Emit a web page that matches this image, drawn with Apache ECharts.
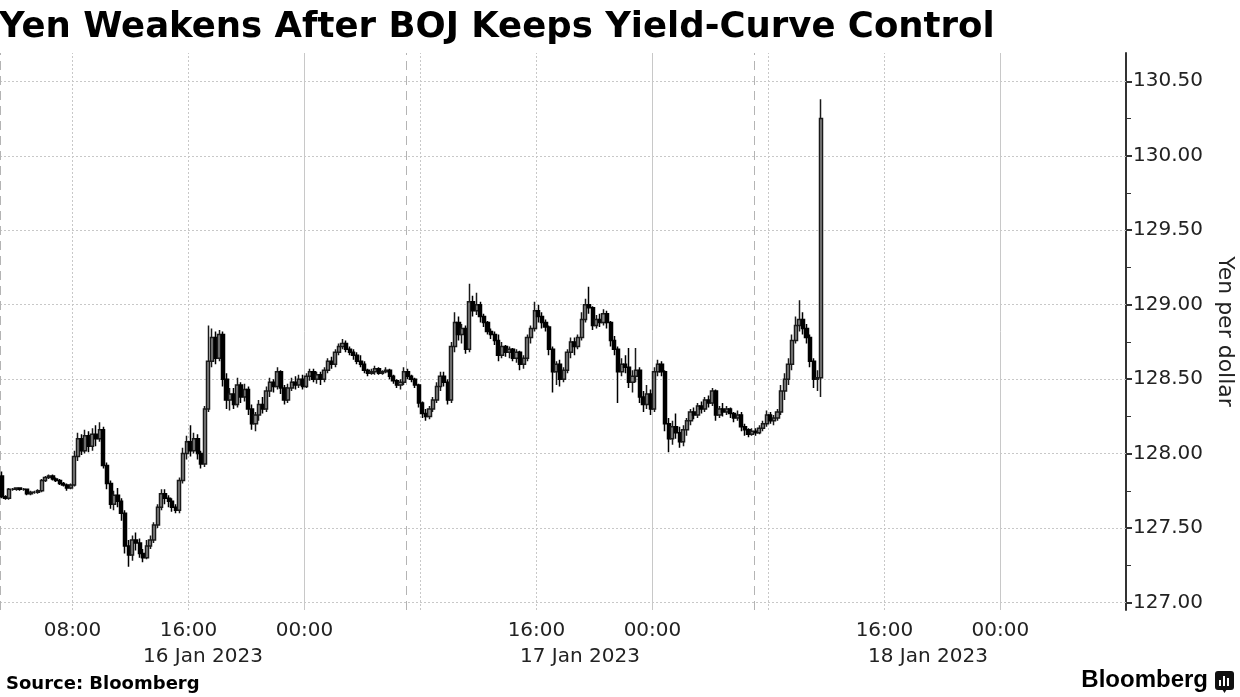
<!DOCTYPE html>
<html>
<head>
<meta charset="utf-8">
<script src="https://cdn.jsdelivr.net/npm/echarts@6/dist/echarts.min.js"></script>
<style>
  html, body { margin: 0; padding: 0; background: #fff; }
  #chart { width: 1240px; height: 697px; }
</style>
</head>
<body>
<div id="chart"></div>
<script>
// x axis is in hours from 16 Jan 2023 00:00 (Tokyo time), 15-minute candles
const stepHours = 0.25

// [open, close, low, high] per candle, one array per trading day
const jan16Start = 3
const jan16Candles = [
  [127.85,127.71,127.70,127.88],[127.71,127.70,127.69,127.72],[127.70,127.76,127.69,127.77],[127.76,127.76,127.75,127.77],
  [127.76,127.77,127.75,127.77],[127.77,127.76,127.75,127.77],[127.76,127.76,127.75,127.77],[127.76,127.73,127.72,127.76],
  [127.73,127.74,127.72,127.75],[127.74,127.74,127.73,127.75],[127.74,127.75,127.73,127.76],[127.75,127.82,127.74,127.83],
  [127.82,127.84,127.81,127.85],[127.84,127.85,127.83,127.86],[127.85,127.83,127.82,127.86],[127.83,127.82,127.81,127.84],
  [127.82,127.80,127.79,127.83],[127.80,127.79,127.78,127.81],[127.79,127.77,127.75,127.80],[127.77,127.79,127.76,127.80],
  [127.79,127.98,127.78,128.02],[127.98,128.10,127.95,128.14],[128.10,128.02,127.99,128.13],[128.02,128.12,128.00,128.16],
  [128.12,128.05,128.01,128.15],[128.05,128.13,128.02,128.17],[128.13,128.10,128.05,128.19],[128.10,128.16,128.08,128.21],
  [128.16,127.92,127.90,128.18],[127.92,127.80,127.76,127.94],[127.80,127.66,127.63,127.82],[127.66,127.72,127.62,127.75],
  [127.72,127.68,127.64,127.77],[127.68,127.60,127.55,127.70],[127.60,127.38,127.33,127.62],[127.38,127.32,127.24,127.42],
  [127.32,127.42,127.28,127.45],[127.42,127.40,127.35,127.47],[127.40,127.33,127.30,127.43],[127.33,127.30,127.27,127.36],
  [127.30,127.38,127.29,127.42],[127.38,127.42,127.36,127.45],[127.42,127.52,127.40,127.54],[127.52,127.64,127.50,127.66],
  [127.64,127.73,127.62,127.76],[127.73,127.70,127.66,127.76],[127.70,127.68,127.64,127.72],[127.68,127.64,127.61,127.70],
  [127.64,127.62,127.60,127.66],[127.62,127.82,127.60,127.84],[127.82,128.00,127.80,128.04],[128.00,128.08,127.96,128.12],
  [128.08,128.02,127.98,128.19],[128.02,128.10,128.00,128.14],[128.10,128.00,127.96,128.13],[128.00,127.93,127.90,128.02],
  [127.93,128.30,127.91,128.32],[128.30,128.62,128.28,128.86],[128.62,128.78,128.58,128.84],[128.78,128.64,128.60,128.82],
  [128.64,128.80,128.62,128.83],[128.80,128.50,128.45,128.82],[128.50,128.36,128.30,128.54],[128.36,128.40,128.29,128.44],
  [128.40,128.33,128.30,128.44],[128.33,128.46,128.31,128.51],[128.46,128.38,128.34,128.48],[128.38,128.43,128.35,128.47],
  [128.43,128.30,128.26,128.45],[128.30,128.20,128.16,128.33],[128.20,128.26,128.15,128.28],[128.26,128.33,128.22,128.36],
  [128.33,128.30,128.27,128.38],[128.30,128.42,128.28,128.45],[128.42,128.48,128.38,128.51],[128.48,128.45,128.41,128.50],
  [128.45,128.55,128.43,128.58],[128.55,128.44,128.40,128.56],[128.44,128.36,128.33,128.46],[128.36,128.44,128.34,128.47],
  [128.44,128.48,128.42,128.51],[128.48,128.46,128.43,128.52],[128.46,128.50,128.44,128.53],[128.50,128.45,128.43,128.53],
  [128.45,128.52,128.44,128.54],[128.52,128.55,128.49,128.57],[128.55,128.50,128.48,128.57],[128.50,128.53,128.47,128.55],
  [128.53,128.50,128.46,128.55],[128.50,128.56,128.48,128.58],[128.56,128.62,128.54,128.64],[128.62,128.60,128.57,128.65],
  [128.60,128.68,128.58,128.70],[128.68,128.72,128.66,128.74],[128.72,128.74,128.70,128.77],[128.74,128.70,128.68,128.76],
  [128.70,128.68,128.66,128.72],[128.68,128.66,128.63,128.70],[128.66,128.62,128.60,128.68],[128.62,128.60,128.58,128.66],
  [128.60,128.56,128.54,128.62],[128.56,128.54,128.52,128.57],[128.54,128.55,128.53,128.57],[128.55,128.57,128.53,128.59],
  [128.57,128.54,128.53,128.58],[128.54,128.55,128.53,128.56],[128.55,128.56,128.54,128.58],[128.56,128.52,128.50,128.57],
  [128.52,128.49,128.47,128.53],[128.49,128.46,128.44,128.50],[128.46,128.48,128.43,128.50],[128.48,128.55,128.46,128.58]
]

const jan17Start = 31
const jan17Candles = [
  [128.55,128.52,128.50,128.57],[128.52,128.50,128.48,128.53],[128.50,128.46,128.44,128.51],[128.46,128.34,128.31,128.47],
  [128.34,128.27,128.24,128.35],[128.27,128.25,128.22,128.30],[128.25,128.30,128.23,128.32],[128.30,128.36,128.28,128.38],
  [128.36,128.45,128.34,128.48],[128.45,128.52,128.42,128.55],[128.52,128.48,128.45,128.55],[128.48,128.36,128.33,128.50],
  [128.36,128.72,128.34,128.75],[128.72,128.88,128.68,128.95],[128.88,128.80,128.76,128.92],[128.80,128.84,128.74,128.87],
  [128.84,128.70,128.67,128.86],[128.70,129.02,128.68,129.14],[129.02,128.96,128.92,129.06],[128.96,129.00,128.93,129.08],
  [129.00,128.92,128.88,129.02],[128.92,128.88,128.85,128.94],[128.88,128.82,128.80,128.89],[128.82,128.80,128.77,128.84],
  [128.80,128.76,128.73,128.82],[128.76,128.66,128.62,128.80],[128.66,128.72,128.64,128.75],[128.72,128.68,128.65,128.73],
  [128.68,128.70,128.64,128.72],[128.70,128.64,128.62,128.71],[128.64,128.68,128.61,128.70],[128.68,128.60,128.56,128.69],
  [128.60,128.64,128.57,128.66],[128.64,128.78,128.62,128.80],[128.78,128.84,128.74,128.86],[128.84,128.96,128.82,129.02],
  [128.96,128.92,128.88,129.00],[128.92,128.88,128.84,128.95],[128.88,128.85,128.82,128.90],[128.85,128.70,128.66,128.86],
  [128.70,128.55,128.41,128.72],[128.55,128.60,128.46,128.62],[128.60,128.50,128.45,128.63],[128.50,128.56,128.48,128.58],
  [128.56,128.68,128.54,128.70],[128.68,128.75,128.64,128.78],[128.75,128.72,128.66,128.78],[128.72,128.78,128.70,128.80],
  [128.78,128.90,128.76,128.95],[128.90,129.00,128.88,129.04],[129.00,128.98,128.94,129.12],[128.98,128.86,128.83,128.99],
  [128.86,128.90,128.84,128.93],[128.90,128.88,128.85,128.94],[128.88,128.94,128.86,128.97],[128.94,128.88,128.84,128.96],
  [128.88,128.76,128.72,128.89],[128.76,128.70,128.66,128.79],[128.70,128.55,128.34,128.72],[128.55,128.60,128.52,128.64],
  [128.60,128.58,128.54,128.66],[128.58,128.48,128.44,128.71],[128.48,128.52,128.41,128.56],[128.52,128.56,128.48,128.71],
  [128.56,128.38,128.34,128.58],[128.38,128.33,128.28,128.42],[128.33,128.40,128.30,128.46],[128.40,128.30,128.26,128.43],
  [128.30,128.55,128.28,128.58],[128.55,128.60,128.52,128.63],[128.60,128.55,128.52,128.62],[128.55,128.20,128.15,128.56],
  [128.20,128.10,128.01,128.24],[128.10,128.18,128.06,128.22],[128.18,128.14,128.10,128.27],[128.14,128.08,128.04,128.18],
  [128.08,128.16,128.05,128.19],[128.16,128.22,128.12,128.24],[128.22,128.28,128.19,128.30],[128.28,128.26,128.23,128.31],
  [128.26,128.32,128.24,128.34],[128.32,128.30,128.27,128.35],[128.30,128.36,128.28,128.38],[128.36,128.34,128.31,128.39],
  [128.34,128.42,128.32,128.44],[128.42,128.26,128.22,128.43],[128.26,128.30,128.24,128.32],[128.30,128.28,128.25,128.34],
  [128.28,128.30,128.26,128.32],[128.30,128.27,128.24,128.31],[128.27,128.24,128.21,128.28],[128.24,128.26,128.22,128.29],
  [128.26,128.18,128.15,128.28],[128.18,128.16,128.12,128.20],[128.16,128.13,128.11,128.17],[128.13,128.15,128.12,128.17]
]

const jan18Start = 55
const jan18Candles = [
  [128.15,128.14,128.12,128.17],[128.14,128.17,128.13,128.19],[128.17,128.20,128.15,128.22],[128.20,128.26,128.18,128.29],
  [128.26,128.22,128.20,128.28],[128.22,128.24,128.19,128.26],[128.24,128.28,128.22,128.30],[128.28,128.42,128.26,128.46],
  [128.42,128.50,128.36,128.54],[128.50,128.60,128.46,128.64],[128.60,128.76,128.56,128.80],[128.76,128.86,128.74,128.92],
  [128.86,128.90,128.82,129.03],[128.90,128.84,128.80,128.95],[128.84,128.78,128.74,128.87],[128.78,128.62,128.58,128.80],
  [128.62,128.50,128.44,128.64],[128.50,128.51,128.42,128.56],[128.51,130.25,128.38,130.38]
]

// axis ticks
const xMin = 3
const xMax = 80.66
const timeTicks = [8, 16, 24, 40, 48, 64, 72]
const dateTicks = [17, 43, 67]
const dateLabels = ['16 Jan 2023', '17 Jan 2023', '18 Jan 2023']
const dottedHours = [8, 16, 32, 40, 56, 64]
const midnightHours = [24, 48, 72]
const sessionBreaks = [3, 31, 55]
const yMin = 126.95
const yMax = 130.69
const yTicks = [127, 127.5, 128, 128.5, 129, 129.5, 130, 130.5]
const yMinorTicks = [127.25, 127.75, 128.25, 128.75, 129.25, 129.75, 130.25]

const FONT = 'DejaVu Sans'

function toSeries(rows, start) {
  return rows.map((r, i) => [start + i * stepHours + stepHours / 2, r[0], r[1], r[2], r[3]])
}

const candleData = [
  ...toSeries(jan16Candles, jan16Start),
  ...toSeries(jan17Candles, jan17Start),
  ...toSeries(jan18Candles, jan18Start)
]

function pad(n) {
  return (n < 10 ? '0' : '') + n
}

const gridLines = [
  ...yTicks.map(v => ({ yAxis: v, lineStyle: { color: '#c8c8c8', type: [2, 2], width: 1 } })),
  ...dottedHours.map(v => ({ xAxis: v, lineStyle: { color: '#c8c8c8', type: [2, 2], width: 1 } })),
  ...midnightHours.map(v => ({ xAxis: v, lineStyle: { color: '#c8c8c8', type: 'solid', width: 1 } })),
  ...sessionBreaks.map(v => ({ xAxis: v, lineStyle: { color: '#b4b4b4', type: [9, 6], width: 1 } }))
]

const chart = echarts.init(document.getElementById('chart'), null, { renderer: 'canvas' })

chart.setOption({
  animation: false,
  backgroundColor: '#fff',
  title: {
    text: 'Yen Weakens After BOJ Keeps Yield-Curve Control',
    left: -1,
    top: 10,
    padding: 0,
    textStyle: { fontFamily: FONT, fontWeight: 'bold', fontSize: 35.5, color: '#000' }
  },
  grid: { left: 0, right: 114, top: 53, bottom: 87, outerBoundsMode: 'none', containLabel: false },
  xAxis: [
    {
      type: 'value',
      min: xMin,
      max: xMax,
      axisLine: { show: false },
      axisTick: { show: false },
      splitLine: { show: false },
      axisLabel: {
        customValues: timeTicks,
        formatter: v => pad(Math.round(v) % 24) + ':00',
        fontFamily: FONT,
        fontSize: 20,
        color: '#222',
        margin: 11
      }
    },
    {
      type: 'value',
      position: 'bottom',
      min: xMin,
      max: xMax,
      offset: 26,
      axisLine: { show: false },
      axisTick: { show: false },
      splitLine: { show: false },
      axisLabel: {
        customValues: dateTicks,
        formatter: v => dateLabels[dateTicks.indexOf(Math.round(v))] || '',
        fontFamily: FONT,
        fontSize: 20,
        color: '#222',
        margin: 11
      }
    }
  ],
  yAxis: [
    {
      type: 'value',
      position: 'right',
      min: yMin,
      max: yMax,
      name: 'Yen per dollar',
      nameLocation: 'middle',
      nameRotate: -90,
      nameGap: 84,
      nameTextStyle: { fontFamily: FONT, fontSize: 22, color: '#222' },
      axisLine: { show: true, lineStyle: { color: '#333', width: 2 } },
      axisTick: { show: true, customValues: yTicks, length: 6, lineStyle: { color: '#333', width: 2 } },
      splitLine: { show: false },
      axisLabel: {
        customValues: yTicks,
        formatter: v => v.toFixed(2),
        fontFamily: FONT,
        fontSize: 20,
        color: '#222',
        margin: 7
      }
    },
    {
      type: 'value',
      position: 'right',
      min: yMin,
      max: yMax,
      axisLine: { show: false },
      axisTick: { show: true, customValues: yMinorTicks, length: 5, lineStyle: { color: '#333', width: 1 } },
      axisLabel: { show: false },
      splitLine: { show: false }
    }
  ],
  series: [
    {
      type: 'candlestick',
      xAxisIndex: 0,
      yAxisIndex: 0,
      z: 3,
      barWidth: 3.6,
      data: candleData,
      itemStyle: {
        color: '#8a8a8a',
        borderColor: '#1a1a1a',
        color0: '#000',
        borderColor0: '#000',
        borderWidth: 1.5
      },
      markLine: {
        silent: true,
        z: 1,
        symbol: ['none', 'none'],
        label: { show: false },
        data: gridLines
      }
    }
  ],
  graphic: [
    {
      type: 'text',
      left: 6,
      top: 675,
      style: { text: 'Source: Bloomberg', fontFamily: FONT, fontWeight: 'bold', fontSize: 18, fill: '#000' }
    },
    {
      type: 'text',
      right: 32,
      top: 668,
      style: { text: 'Bloomberg', fontFamily: 'Liberation Sans', fontWeight: 'bold', fontSize: 24, fill: '#000' }
    },
    {
      type: 'group',
      right: 6,
      top: 671,
      children: [
        { type: 'rect', shape: { x: 0, y: 0, width: 19, height: 19, r: 3 }, style: { fill: '#111' } },
        { type: 'polygon', shape: { points: [[7, 18], [12, 18], [9.5, 22]] }, style: { fill: '#111' } },
        { type: 'rect', shape: { x: 4, y: 9, width: 2, height: 6 }, style: { fill: '#fff' } },
        { type: 'rect', shape: { x: 8, y: 5, width: 2, height: 10 }, style: { fill: '#fff' } },
        { type: 'rect', shape: { x: 12, y: 7, width: 2, height: 8 }, style: { fill: '#fff' } }
      ]
    }
  ]
})

window.addEventListener('resize', () => chart.resize())
</script>
</body>
</html>
